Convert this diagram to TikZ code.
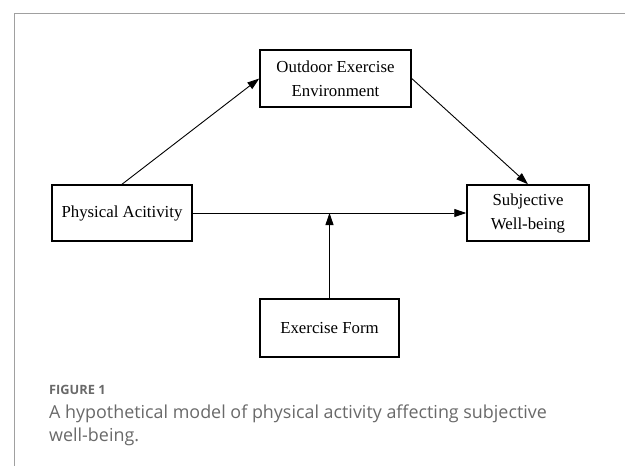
\documentclass[tikz,border=0pt]{standalone}
\usepackage{fontspec}
\setmainfont{Liberation Serif}
\newfontfamily\capfont{Open Sans}
\usetikzlibrary{arrows.meta}
\definecolor{framegray}{RGB}{160,160,160}
\definecolor{capgray}{RGB}{105,105,105}
\tikzset{
  box/.style={draw, line width=1.5pt, inner sep=0pt, align=center, font=\fontsize{16.8}{24}\selectfont},
  conn/.style={line width=0.9pt, -{Triangle[length=12pt,width=8pt]}},
  captext/.style={anchor=base west, inner sep=0pt, text=capgray, align=left},
}
\begin{document}
\begin{tikzpicture}[x=1pt,y=-1pt]
\useasboundingbox (0,0) rectangle (625,466);
\draw[framegray, line width=1pt] (14,466) -- (14,13) -- (625,13);
\node[box, minimum width=151pt, minimum height=57pt] (out) at (335.5,78.5) {Outdoor Exercise\\Environment};
\node[box, minimum width=140pt, minimum height=56pt] (pa) at (122,213) {Physical Acitivity};
\node[box, minimum width=122pt, minimum height=56pt] (swb) at (528,213) {Subjective\\Well-being};
\node[box, minimum width=139pt, minimum height=58pt] (ef) at (329.5,328) {Exercise Form};
\coordinate (mid) at (329.5,213);
\draw[conn] (pa.north) -- (out.west);
\draw[conn] (out.east) -- (swb.north);
\draw[conn] (pa.east) -- (swb.west);
\draw[conn] (ef.north) -- (mid);
\node[captext, font=\capfont\bfseries\fontsize{12.8}{15}\selectfont] (fig) at (49,394) {FIGURE 1};
\node[captext, font=\capfont\fontsize{17.9}{23.5}\selectfont] (cap1) at (49,418) {A hypothetical model of physical activity affecting subjective};
\node[captext, font=\capfont\fontsize{17.9}{23.5}\selectfont] (cap2) at (49,441.5) {well-being.};
\end{tikzpicture}
\end{document}
